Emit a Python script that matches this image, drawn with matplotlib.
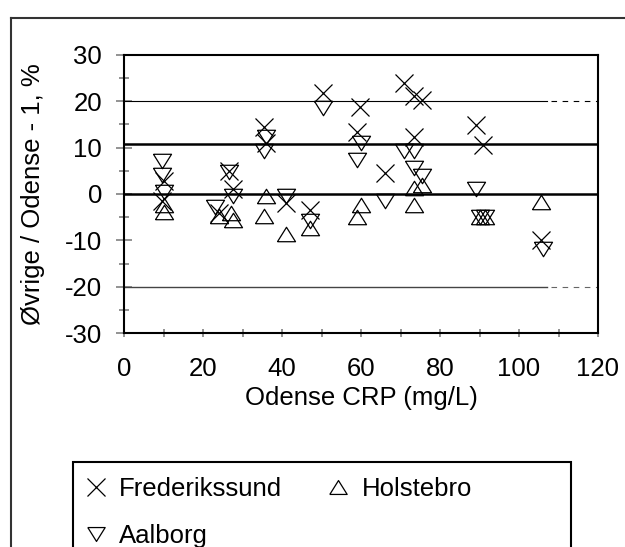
import numpy as np
import matplotlib.pyplot as plt
from matplotlib.lines import Line2D
from matplotlib.patches import Rectangle

plt.rcParams['font.family'] = ['Liberation Sans', 'DejaVu Sans']
plt.rcParams['axes.unicode_minus'] = False

# values (Odense CRP mg/L, deviation %)
fred_x = [10, 9.5, 24, 26.5, 27.5, 35.5, 36, 41, 47, 50.5, 59.7, 59, 66, 71, 73.5, 75.5, 73.5, 89, 91, 105.5]
fred_y = [2.8, -1.5, -4, 5, 1, 14.5, 11, -2, -3.5, 21.7, 18.7, 13.3, 4.5, 23.9, 21, 20.3, 12.3, 14.8, 10.5, -10]

hol_x = [10, 10, 24, 27, 27.5, 36, 35.5, 41, 47, 60, 59, 73.5, 75.5, 73.5, 90, 91.5, 105.5]
hol_y = [-2.3, -3.8, -4.8, -4, -5.7, -0.4, -4.8, -8.7, -7.4, -2.4, -4.9, 1.3, 2, -2.4, -5, -5, -1.7]

aal_x = [9.5, 9.5, 10, 23, 26.5, 27.5, 36, 35.5, 41, 47, 50.5, 60, 59, 66, 71, 73.5, 73.5, 75.5, 89, 90, 91.5, 106]
aal_y = [7, 4, 0.5, -2.8, 4.7, -0.4, 12.2, 9.2, -0.4, -5.9, 18.5, 11, 7.4, -1.5, 9.3, 9.3, 5.5, 3.8, 1, -5, -5, -11.9]

upper_limit = 10.8
band = 20

fig = plt.figure(figsize=(6.25, 5.47), dpi=100)
ax = fig.add_axes([0.1984, 0.3907, 0.7584, 0.5093])

tri_down = [(-1, 0.8), (1, 0.8), (0, -0.8), (-1, 0.8)]
tri_up = [(-1, -0.8), (1, -0.8), (0, 0.8), (-1, -0.8)]

# reference lines
ax.axhline(0, color='black', lw=1.8, zorder=2)
ax.axhline(upper_limit, color='black', lw=1.8, zorder=2)
ax.plot([0, 107], [band, band], color='black', lw=0.8, zorder=2)
ax.plot([108, 120], [band, band], color='black', lw=0.8, ls=(0, (5, 5)), zorder=2)
ax.plot([0, 107], [-band, -band], color='#444444', lw=1.0, zorder=2)
ax.plot([108, 120], [-band, -band], color='#666666', lw=0.8, ls=(0, (5, 5)), zorder=2)

ms = 13
ax.plot(fred_x, fred_y, ls='none', marker='x', ms=ms, mew=0.9, color='black', zorder=3)
ax.plot(hol_x, hol_y, ls='none', marker=tri_up, ms=ms, mew=0.9, mfc='none', mec='black', zorder=3)
ax.plot(aal_x, aal_y, ls='none', marker=tri_down, ms=ms, mew=0.9, mfc='none', mec='black', zorder=3)

ax.set_xlim(0, 120)
ax.set_ylim(-30, 30)
ax.set_xticks(np.arange(0, 121, 20))
ax.set_xticks(np.arange(0, 121, 10), minor=True)
ax.set_yticks(np.arange(-30, 31, 10))
ax.set_yticks(np.arange(-30, 31, 5), minor=True)

for s in ax.spines.values():
    s.set_linewidth(1.5)
    s.set_color('black')

ax.tick_params(axis='y', which='major', direction='inout', length=11.5, width=1.2, color='#808080', labelsize=18.5, pad=10)
ax.tick_params(axis='y', which='minor', direction='inout', length=6.5, width=1.2, color='#808080')
ax.tick_params(axis='x', which='both', direction='inout', length=6, width=1.2, color='#808080', labelsize=18.5, pad=14)

ax.set_xlabel('Odense CRP (mg/L)', fontsize=18.5, labelpad=4)
ax.set_ylabel('Øvrige / Odense - 1, %', fontsize=18.5, labelpad=14)

# legend
handles = [
    Line2D([], [], ls='none', marker='x', ms=12.5, mew=0.9, color='black'),
    Line2D([], [], ls='none', marker=tri_down, ms=12.5, mew=0.9, mfc='none', mec='black'),
    Line2D([], [], ls='none', marker=tri_up, ms=12.5, mew=0.9, mfc='none', mec='black'),
]
labels = ['Frederikssund', 'Aalborg', 'Holstebro']
fig.legend(handles, labels, ncol=2, loc='upper left', bbox_to_anchor=(88 / 625, 1 - 477 / 547),
           frameon=False, fontsize=18.5, borderpad=0, borderaxespad=0, handlelength=0.62,
           handletextpad=0.6, columnspacing=1.87, labelspacing=0.9)
fig.add_artist(Rectangle((73 / 625, -0.1), (571 - 73) / 625, 1 - 462 / 547 + 0.1,
                         transform=fig.transFigure, fill=False, ec='black', lw=1.5))

# outer chart frame
fig.add_artist(Line2D([11 / 625, 11 / 625], [0, 1 - 18 / 547], transform=fig.transFigure, color='#333333', lw=1.5))
fig.add_artist(Line2D([11 / 625, 1.0], [1 - 18 / 547, 1 - 18 / 547], transform=fig.transFigure, color='#333333', lw=1.5))

fig.savefig('out.png', dpi=100)
